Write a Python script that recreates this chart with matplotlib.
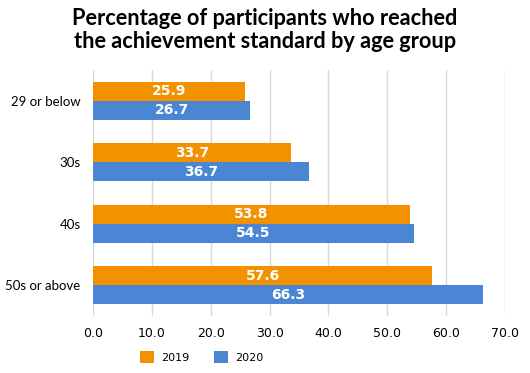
import numpy as np
import matplotlib
matplotlib.use('Agg')
from matplotlib import pyplot as plt

groups = ['29 or below', '30s', '40s', '50s or above']
v2019 = [25.9, 33.7, 53.8, 57.6]
v2020 = [26.7, 36.7, 54.5, 66.3]
years = ['2019', '2020']
xticks = np.arange(0, 71, 10)

orange = '#F39200'
blue = '#4A86D4'

fig = plt.figure(figsize=(5.3, 3.73), dpi=100)
ax = fig.add_axes([0.1755, 0.153, 0.7775, 0.659])

y = np.arange(len(groups))
h = 0.31
b1 = ax.barh(y - h / 2, v2019, height=h, color=orange, label=years[0], zorder=3)
b2 = ax.barh(y + h / 2, v2020, height=h, color=blue, label=years[1], zorder=3)

# 数值标签
for bars in (b1, b2):
    for r in bars:
        ax.text(r.get_width() / 2, r.get_y() + r.get_height() / 2, '%.1f' % r.get_width(),
                ha='center', va='center', color='white', fontsize=10, fontweight='bold', zorder=4)

ax.set_xlim(0, 70)
ax.set_ylim(3.5, -0.5)
ax.set_xticks(xticks)
ax.set_xticklabels(['%.1f' % t for t in xticks], fontsize=9)
ax.set_yticks(y)
ax.set_yticklabels(groups, fontsize=9.5, family='Lato')
ax.tick_params(axis='y', length=0, pad=9)
ax.tick_params(axis='x', length=0, pad=8)
ax.grid(axis='x', color='#D9D9D9', linewidth=1, zorder=0)
for s in ax.spines.values():
    s.set_visible(False)

fig.suptitle('Percentage of participants who reached\nthe achievement standard by age group',
             fontsize=15.7, fontweight='bold', family='Lato', y=0.978, linespacing=1.12)

fig.legend(loc='lower center', bbox_to_anchor=(0.38, 0.0), ncol=2, frameon=False,
           fontsize=8, handlelength=1.3, handleheight=1.3, columnspacing=2.2, handletextpad=0.6)

fig.savefig('out.png', dpi=100)
